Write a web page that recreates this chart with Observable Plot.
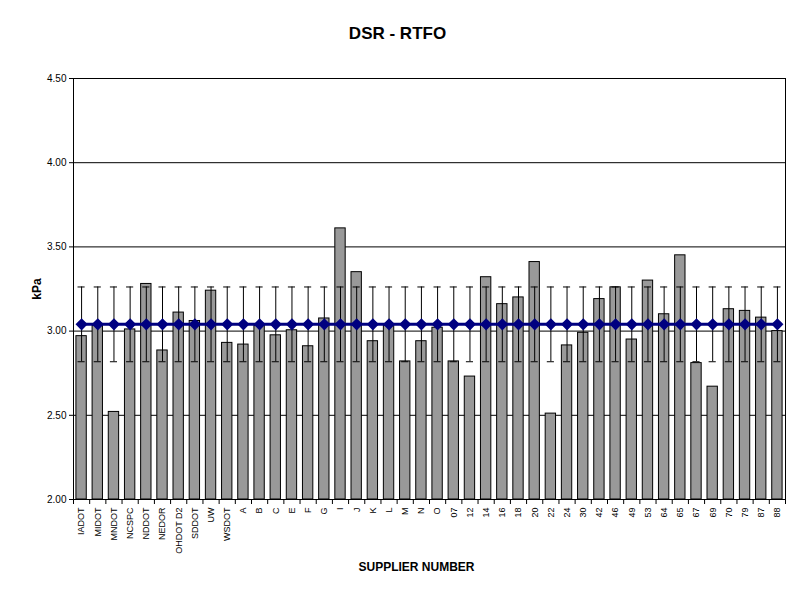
<!DOCTYPE html>
<html>
<head>
<meta charset="utf-8">
<script src="https://cdn.jsdelivr.net/npm/d3@7"></script>
<script src="https://cdn.jsdelivr.net/npm/@observablehq/plot@0.6"></script>
<style>
  body { margin: 0; background: #fff; }
  #chart svg { display: block; }
</style>
</head>
<body>
<div id="chart"></div>
<script>
const suppliers = ["IADOT","MIDOT","MNDOT","NCSPC","NDDOT","NEDOR","OHDOT D2","SDDOT","UW","WSDOT",
  "A","B","C","E","F","G","I","J","K","L","M","N","O",
  "07","12","14","16","18","20","22","24","30","42","46","49","53","64","65","67","69","70","79","87","88"];
const values = [2.97,3.03,2.52,3.01,3.28,2.885,3.11,3.06,3.24,2.93,
  2.92,3.03,2.975,3.005,2.91,3.075,3.61,3.35,2.94,3.03,2.82,2.94,3.02,
  2.82,2.73,3.32,3.16,3.20,3.41,2.51,2.915,2.99,3.19,3.26,2.95,3.30,3.10,3.45,2.81,2.67,3.13,3.12,3.08,3.00];
const meanValue = 3.04;
const errorHalf = 0.222;
const yTicks = [2.0, 2.5, 3.0, 3.5, 4.0, 4.5];

const data = suppliers.map((s, i) => ({supplier: s, i, value: values[i], mean: meanValue,
  lo: meanValue - errorHalf, hi: meanValue + errorHalf}));

const n = suppliers.length;
const barPad = 0.18;
const capHalf = 0.22;
const font = "'Liberation Sans', Arial, sans-serif";

const chart = Plot.plot({
  width: 800,
  height: 600,
  marginTop: 78,
  marginBottom: 101,
  marginLeft: 73,
  marginRight: 15,
  style: {fontFamily: font, fontSize: "10px", background: "#fff", color: "black"},
  x: {type: "linear", domain: [0, n], axis: null},
  y: {domain: [yTicks[0], yTicks[yTicks.length - 1]], axis: null},
  marks: [
    Plot.ruleY(yTicks.slice(1), {stroke: "black", strokeWidth: 1}),
    Plot.rectY(data, {x1: d => d.i + barPad, x2: d => d.i + 1 - barPad, y1: yTicks[0], y2: "value",
      fill: "#999999", stroke: "black", strokeWidth: 1}),
    Plot.ruleX(data, {x: d => d.i + 0.5, y1: "lo", y2: "hi", stroke: "black", strokeWidth: 1}),
    Plot.ruleY(data, {y: "hi", x1: d => d.i + 0.5 - capHalf, x2: d => d.i + 0.5 + capHalf, stroke: "black", strokeWidth: 1}),
    Plot.ruleY(data, {y: "lo", x1: d => d.i + 0.5 - capHalf, x2: d => d.i + 0.5 + capHalf, stroke: "black", strokeWidth: 1}),
    Plot.line(data, {x: d => d.i + 0.5, y: "mean", stroke: "#000080", strokeWidth: 3}),
    Plot.dot(data, {x: d => d.i + 0.5, y: "mean", symbol: "diamond2", r: 4.5, fill: "#000080", stroke: "#000080"}),
    Plot.frame({stroke: "black", strokeWidth: 1}),
    Plot.axisY({ticks: yTicks, tickFormat: d3.format(".2f"), tickSize: 4, tickPadding: 3,
      fontSize: 10, label: null, stroke: "black"}),
    Plot.axisX({ticks: d3.range(n + 1), tickSize: 5, tickFormat: () => "", label: null, stroke: "black"}),
    Plot.axisX({ticks: d3.range(n).map(i => i + 0.5), tickFormat: d => suppliers[Math.floor(d)],
      tickSize: 0, tickPadding: 8, tickRotate: -90, fontSize: 9, label: null}),
    Plot.text(["DSR - RTFO"], {frameAnchor: "top", dx: -32, dy: -45, fontSize: 17, fontWeight: "bold", lineAnchor: "middle"}),
    Plot.text(["kPa"], {frameAnchor: "left", dx: -36, rotate: -90, fontSize: 12, fontWeight: "bold", lineAnchor: "middle", textAnchor: "middle"}),
    Plot.text(["SUPPLIER NUMBER"], {frameAnchor: "bottom", dx: -13, dy: 68, fontSize: 12, fontWeight: "bold", lineAnchor: "middle"})
  ]
});
document.getElementById("chart").appendChild(chart);
</script>
</body>
</html>
